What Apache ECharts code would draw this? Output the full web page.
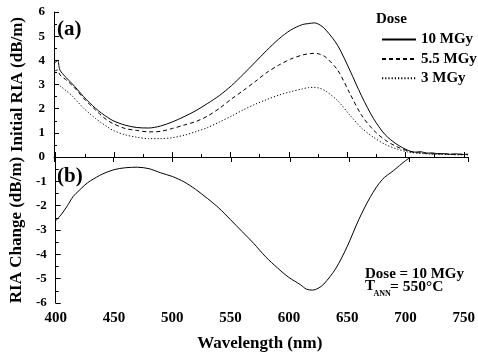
<!DOCTYPE html>
<html>
<head>
<meta charset="utf-8">
<script src="https://cdn.jsdelivr.net/npm/echarts@6/dist/echarts.min.js"></script>
<style>
html,body{margin:0;padding:0;background:#fff;}
#chart{width:478px;height:356px;}
</style>
</head>
<body>
<div id="chart"></div>
<script>
// ---- data ----
var wavelength = [400,403,405,410,415,420,425,430,435,440,445,450,460,470,480,490,500,510,520,530,540,550,560,570,580,590,600,610,615,620,625,630,640,650,660,670,680,690,700,705,710,715,720,725,730,735,740,745,750];
var dose10 = [3.85,4.0,3.6,3.3,3.05,2.78,2.5,2.25,2.02,1.82,1.65,1.5,1.32,1.22,1.2,1.28,1.45,1.67,1.92,2.22,2.55,2.95,3.42,3.92,4.42,4.88,5.25,5.48,5.52,5.55,5.46,5.25,4.6,3.6,2.53,1.6,0.92,0.52,0.26,0.2,0.22,0.16,0.17,0.13,0.14,0.11,0.13,0.1,0.12];
var dose55 = [3.55,3.6,3.4,3.2,2.98,2.72,2.43,2.18,1.95,1.72,1.52,1.38,1.18,1.1,1.04,1.06,1.18,1.32,1.47,1.7,2.02,2.4,2.75,3.12,3.5,3.8,4.05,4.22,4.27,4.29,4.25,4.12,3.58,2.64,1.73,1.12,0.7,0.42,0.24,0.19,0.17,0.15,0.13,0.14,0.12,0.12,0.11,0.12,0.1];
var dose3 = [3.05,3.0,2.95,2.75,2.55,2.28,2.02,1.8,1.6,1.42,1.25,1.1,0.92,0.82,0.76,0.76,0.8,0.9,1.05,1.22,1.45,1.69,1.95,2.18,2.38,2.56,2.7,2.82,2.87,2.88,2.84,2.72,2.32,1.74,1.2,0.82,0.52,0.33,0.2,0.17,0.15,0.13,0.12,0.11,0.1,0.1,0.09,0.09,0.08];
var changeWavelength = [400,405,410,415,420,425,430,435,440,450,460,470,480,490,500,510,520,530,540,550,560,570,580,590,600,610,615,620,625,630,640,650,660,670,680,690,700,705];
var riaChange = [-2.62,-2.35,-2.0,-1.62,-1.38,-1.15,-0.97,-0.83,-0.7,-0.52,-0.44,-0.42,-0.48,-0.65,-0.8,-1.02,-1.33,-1.7,-2.1,-2.58,-3.07,-3.56,-4.1,-4.55,-4.95,-5.25,-5.43,-5.47,-5.4,-5.22,-4.6,-3.68,-2.57,-1.63,-0.93,-0.55,-0.15,0];
var seriesNames = ['10 MGy','5.5 MGy','3 MGy'];
var xTicks = [400,450,500,550,600,650,700,750];

function pairs(xs, ys){ return xs.map(function(x,i){ return [x, ys[i]]; }); }

var FONT = '"Liberation Serif","Times New Roman",serif';
var black = '#000';

var chart = echarts.init(document.getElementById('chart'), null, {renderer:'canvas'});

var axisLineStyle = {show:true, lineStyle:{color:black, width:1}};

var option = {
  animation:false,
  backgroundColor:'#fff',
  grid:[
    {left:54, right:10, top:12, height:145, containLabel:false},
    {left:54, right:10, top:157, height:146, containLabel:false}
  ],
  xAxis:[
    {gridIndex:0, type:'value', min:xTicks[0], max:xTicks[xTicks.length-1], interval:50, position:'bottom',
     axisLine:axisLineStyle, axisTick:{show:true, inside:false, length:5, lineStyle:{color:black}},
     minorTick:{show:false}, axisLabel:{show:false}, splitLine:{show:false}},
    {gridIndex:1, type:'value', min:xTicks[0], max:xTicks[xTicks.length-1], interval:50, position:'bottom',
     axisLine:axisLineStyle, axisTick:{show:true, inside:true, length:5, lineStyle:{color:black}},
     minorTick:{show:true, splitNumber:2, length:3, lineStyle:{color:black}},
     axisLabel:{show:true, color:black, fontFamily:FONT, fontWeight:'bold', fontSize:15, margin:8},
     splitLine:{show:false},
     name:'Wavelength (nm)', nameLocation:'middle', nameGap:32,
     nameTextStyle:{color:black, fontFamily:FONT, fontWeight:'bold', fontSize:17}}
  ],
  yAxis:[
    {gridIndex:0, type:'value', min:0, max:6, interval:1,
     axisLine:axisLineStyle, axisTick:{show:true, inside:true, length:5, lineStyle:{color:black}},
     minorTick:{show:true, splitNumber:2, length:3, lineStyle:{color:black}},
     axisLabel:{color:black, fontFamily:FONT, fontWeight:'bold', fontSize:13, margin:9},
     splitLine:{show:false},
     name:'Initial RIA (dB/m)', nameLocation:'middle', nameGap:28,
     nameTextStyle:{color:black, fontFamily:FONT, fontWeight:'bold', fontSize:17}},
    {gridIndex:1, type:'value', min:-6, max:0, interval:1,
     axisLine:axisLineStyle, axisTick:{show:true, inside:true, length:5, lineStyle:{color:black}},
     minorTick:{show:true, splitNumber:2, length:3, lineStyle:{color:black}},
     axisLabel:{color:black, fontFamily:FONT, fontWeight:'bold', fontSize:13, margin:9,
       formatter:function(v){ return v === 0 ? '' : String(v); }},
     splitLine:{show:false},
     name:'RIA Change (dB/m)', nameLocation:'middle', nameGap:28,
     nameTextStyle:{color:black, fontFamily:FONT, fontWeight:'bold', fontSize:17}}
  ],
  legend:{
    orient:'vertical', left:376, top:27, itemWidth:34, itemHeight:14, itemGap:4.4,
    data:seriesNames,
    itemStyle:{opacity:0, borderWidth:0},
    textStyle:{color:black, fontFamily:FONT, fontWeight:'bold', fontSize:15}
  },
  series:[
    {name:seriesNames[0], type:'line', xAxisIndex:0, yAxisIndex:0, data:pairs(wavelength, dose10),
     symbol:'none', smooth:0.3, lineStyle:{color:black, width:1, type:'solid'}, itemStyle:{color:black}},
    {name:seriesNames[1], type:'line', xAxisIndex:0, yAxisIndex:0, data:pairs(wavelength, dose55),
     symbol:'none', smooth:0.3, lineStyle:{color:black, width:1, type:[4,3]}, itemStyle:{color:black}},
    {name:seriesNames[2], type:'line', xAxisIndex:0, yAxisIndex:0, data:pairs(wavelength, dose3),
     symbol:'none', smooth:0.3, lineStyle:{color:black, width:1, type:[1.2,2]}, itemStyle:{color:black}},
    {name:'RIA Change', type:'line', xAxisIndex:1, yAxisIndex:1, data:pairs(changeWavelength, riaChange),
     symbol:'none', smooth:0.3, lineStyle:{color:black, width:1}, itemStyle:{color:black}}
  ],
  graphic:[
    {type:'text', left:57, top:19, style:{text:'(a)', fill:black, font:'bold 21px ' + FONT}},
    {type:'text', left:57, top:166, style:{text:'(b)', fill:black, font:'bold 21px ' + FONT}},
    {type:'text', left:376, top:12, style:{text:'Dose', fill:black, font:'bold 15px ' + FONT}},
    {type:'text', left:365, top:267, style:{text:'Dose = 10 MGy', fill:black, font:'bold 15px ' + FONT}},
    {type:'text', left:365, top:279, style:{text:'T', fill:black, font:'bold 15px ' + FONT}},
    {type:'text', left:373.5, top:290, style:{text:'ANN', fill:black, font:'bold 8px ' + FONT}},
    {type:'text', left:390, top:279, style:{text:'= 550°C', fill:black, font:'bold 15.5px ' + FONT}}
  ]
};
chart.setOption(option);
</script>
</body>
</html>
